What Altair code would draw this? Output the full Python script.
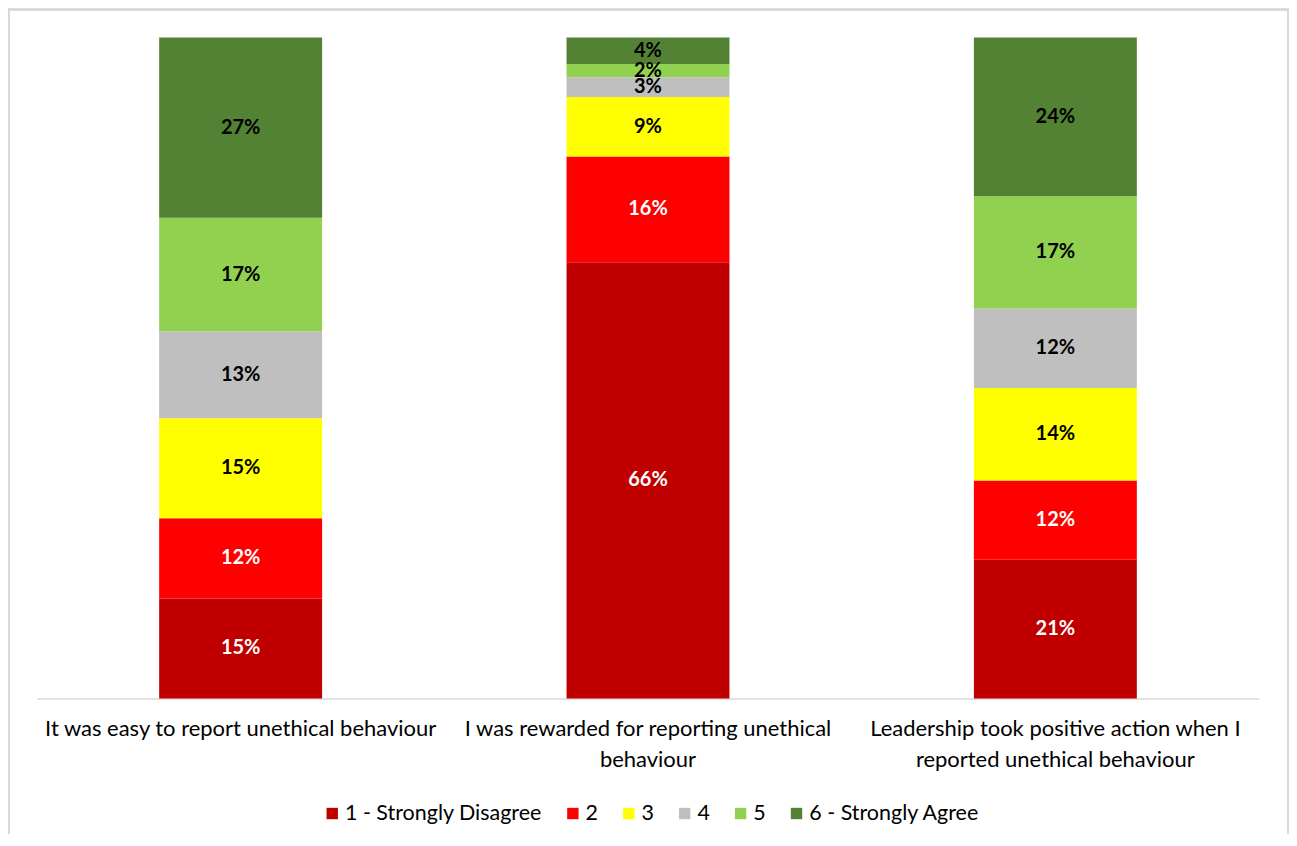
import altair as alt
import pandas as pd

categories = [
    "It was easy to report unethical behaviour",
    "I was rewarded for reporting unethical behaviour",
    "Leadership took positive action when I reported unethical behaviour",
]
label_lines = [
    ["It was easy to report unethical behaviour"],
    ["I was rewarded for reporting unethical", "behaviour"],
    ["Leadership took positive action when I", "reported unethical behaviour"],
]
levels = ["1 - Strongly Disagree", "2", "3", "4", "5", "6 - Strongly Agree"]
colors = ["#C00000", "#FF0000", "#FFFF00", "#BFBFBF", "#92D050", "#548235"]

easy = [15, 12, 15, 13, 17, 27]
rewarded = [66, 16, 9, 3, 2, 4]
leadership = [21, 12, 14, 12, 17, 24]

rows = []
for cat, vals in zip(categories, [easy, rewarded, leadership]):
    for i, (lev, v) in enumerate(zip(levels, vals)):
        rows.append({"category": cat, "level": lev, "order": i + 1, "value": v,
                     "label": f"{v}%"})
df = pd.DataFrame(rows)

FONT = "Lato"

# label expression for multi-line axis labels
expr = "''"
for cat, lines in reversed(list(zip(categories, label_lines))):
    arr = "[" + ",".join(f"'{l}'" for l in lines) + "]"
    expr = f"datum.value == '{cat}' ? {arr} : ({expr})"

base = alt.Chart(df).transform_stack(
    stack="value",
    groupby=["category"],
    as_=["v0", "v1"],
    offset="normalize",
    sort=[alt.SortField("order", order="ascending")],
).transform_calculate(mid="(datum.v0 + datum.v1) / 2")

xenc = alt.X(
    "category:N",
    sort=categories,
    title=None,
    scale=alt.Scale(paddingInner=0.6, paddingOuter=0.3),
    axis=alt.Axis(
        labelAngle=0,
        labelExpr=expr,
        labelFont=FONT,
        labelFontSize=22,
        labelColor="#000000",
        labelLineHeight=31,
        labelPadding=20,
        labelLimit=600,
        ticks=False,
        domainColor="#D9D9D9",
        domainWidth=1.5,
        grid=False,
    ),
)

bars = base.mark_bar().encode(
    x=xenc,
    y=alt.Y("v0:Q", axis=None, scale=alt.Scale(domain=[0, 1])),
    y2="v1:Q",
    color=alt.Color(
        "level:N",
        scale=alt.Scale(domain=levels, range=colors),
        sort=levels,
        legend=alt.Legend(
            title=None,
            orient="none",
            direction="horizontal",
            legendX=285,
            legendY=766,
            symbolType="square",
            symbolSize=130,
            symbolStrokeWidth=0,
            labelFont=FONT,
            labelFontSize=21.5,
            labelColor="#000000",
            labelOffset=2,
            columnPadding=20,
            labelLimit=400,
        ),
    ),
    order=alt.Order("order:Q"),
)

texts = base.mark_text(font=FONT, fontSize=20, fontWeight="bold").encode(
    x=alt.X("category:N", sort=categories),
    y=alt.Y("mid:Q"),
    text="label:N",
    color=alt.condition("datum.order <= 2", alt.value("#FFFFFF"), alt.value("#000000")),
)

frame = alt.Chart(df).mark_rect(
    fill=None, stroke="#D9D9D9", strokeWidth=2
).encode(
    x=alt.value(-28),
    x2=alt.value(1253),
    y=alt.value(-28),
    y2=alt.value(900),
)

chart = alt.layer(frame, bars, texts).properties(
    width=1224,
    height=662,
    background="white",
    autosize=alt.AutoSizeParams(type="none"),
    padding={"left": 29, "top": 29, "right": 30, "bottom": 135},
).configure_view(stroke=None)

chart.save("out.html", embed_options={"renderer": "svg", "actions": False})
